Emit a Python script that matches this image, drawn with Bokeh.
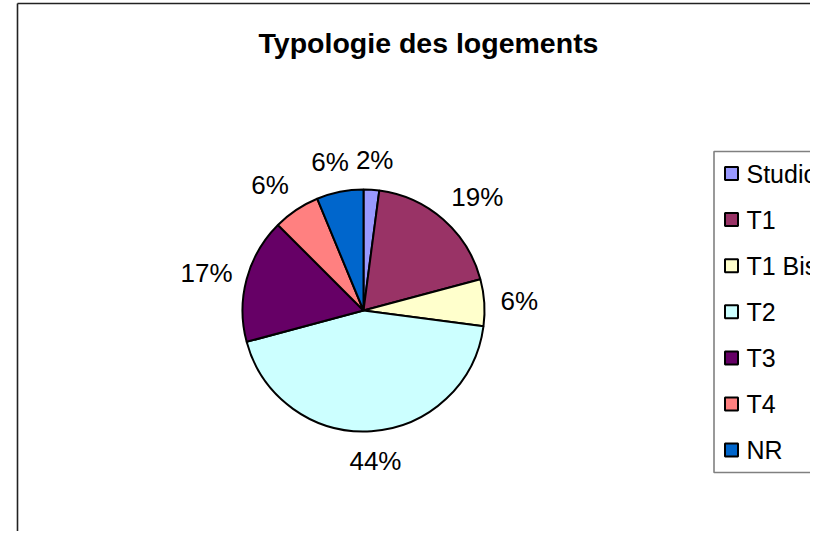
import math
from bokeh.plotting import figure
from bokeh.models import Range1d, ColumnDataSource
from bokeh.embed import file_html
from bokeh.resources import INLINE
from bokeh.core.properties import value

# ---- data ----
categories = ["Studio", "T1", "T1 Bis", "T2", "T3", "T4", "NR"]
counts = [1, 9, 3, 21, 8, 3, 3]          # shares shown as 2%,19%,6%,44%,17%,6%,6%
colors = ["#9999FF", "#993366", "#FFFFCC", "#CCFFFF", "#660066", "#FF8080", "#0066CC"]
chart_title = "Typologie des logements"

# ---- layout (image pixel coordinates; data y = 531 - image y) ----
W, H = 810, 531
def Y(py):
    return H - py

cx, cy = 363, 310
R = 121
FONT = "Liberation Sans"

p = figure(width=W, height=H, output_backend="svg", toolbar_location=None,
           x_range=Range1d(0, W), y_range=Range1d(0, H), min_border=0)
p.axis.visible = False
p.grid.visible = False
p.outline_line_color = None
p.background_fill_color = "white"
p.border_fill_color = "white"

# chart area border (left and top)
p.segment(x0=[17, 17], y0=[Y(3), Y(3)], x1=[17, 900], y1=[Y(600), Y(3)],
          line_color="#222222", line_width=1.6)

# title
p.text(x=[428], y=[Y(42)], text=[chart_title], text_font=value(FONT),
       text_font_size="28.5px", text_font_style="bold", text_align="center",
       text_baseline="middle", text_color="black")

# wedges
total = sum(counts)
starts, ends, mids = [], [], []
cum = 0.0
for v in counts:
    a0 = math.pi / 2 - cum / total * 2 * math.pi
    cum += v
    a1 = math.pi / 2 - cum / total * 2 * math.pi
    starts.append(a0)
    ends.append(a1)
    mids.append((a0 + a1) / 2)

src = ColumnDataSource(dict(start=starts, end=ends, color=colors, cat=categories))
p.wedge(x=cx, y=Y(cy), radius=R, start_angle="start", end_angle="end",
        direction="clock", fill_color="color", line_color="black",
        line_width=2, source=src)

# data labels (percent, rounded)
FS = 26
gap = 20
def clamp(t):
    return max(-1.0, min(1.0, 2 * t))
lx, ly, lt = [], [], []
for v, m in zip(counts, mids):
    t = f"{round(100 * v / total)}%"
    half_w = 0.8 * (0.556 * (len(t) - 1) + 0.889) * FS / 2
    half_h = 10
    c, s = math.cos(m), math.sin(m)
    lx.append(cx + (R + gap) * c + half_w * clamp(c))
    ly.append(Y(cy) + (R + gap) * s + half_h * clamp(s) * abs(s))
    lt.append(t)
p.text(x=lx, y=ly, text=lt, text_font=value(FONT), text_font_size=f"{FS}px",
       text_align="center", text_baseline="middle", text_color="black")

# legend box
leg_left, leg_top, leg_bottom = 713.5, 151, 472
p.quad(left=[leg_left], right=[900], top=[Y(leg_top)], bottom=[Y(leg_bottom)],
       fill_color="white", line_color="#808080", line_width=1.6)
row0, step = 173, 46.1
ry = [Y(row0 + i * step) for i in range(len(categories))]
p.rect(x=[731] * len(categories), y=ry, width=13, height=13,
       fill_color=colors, line_color="black", line_width=2)
p.text(x=[746] * len(categories), y=ry, text=categories, text_font=value(FONT),
       text_font_size="25px", text_align="left", text_baseline="middle",
       text_color="black")

open("out.html", "w").write(file_html(p, INLINE))
